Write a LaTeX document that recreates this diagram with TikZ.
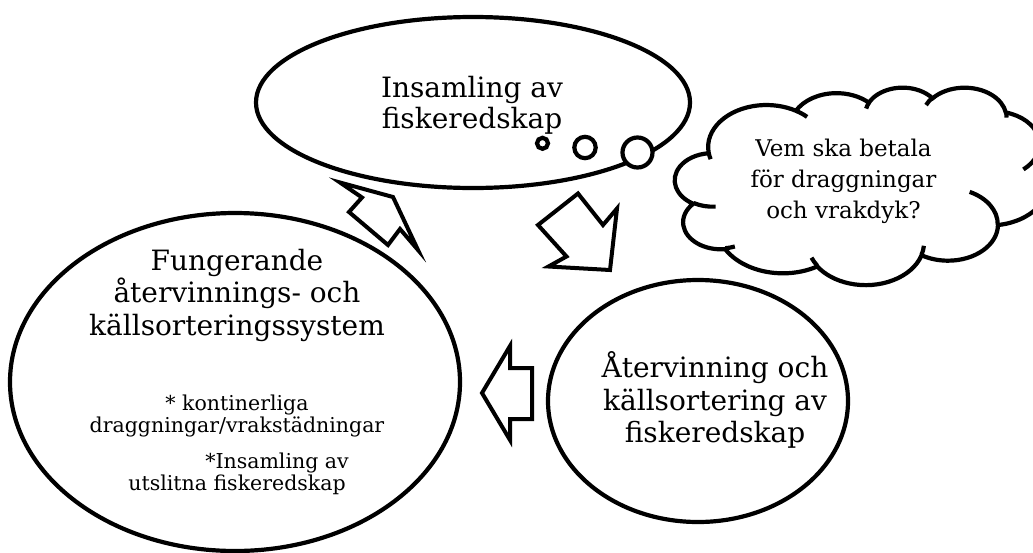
\documentclass[tikz,border=0pt]{standalone}
\usepackage{fontspec}
\setmainfont{DejaVu Serif}
\usetikzlibrary{shapes.geometric}

\tikzset{
  inkline/.style={draw=black, line width=4.2pt, fill=white},
  bubble/.style={inkline, ellipse, inner sep=0pt, outer sep=0pt},
  puff/.style={inkline, circle, inner sep=0pt, outer sep=0pt},
  blockarrow/.style={draw=black, line width=4pt, fill=white, line join=miter, miter limit=12},
  bigtext/.style={align=center, inner sep=0pt, font=\fontsize{28}{32.5}\selectfont},
  cloudtext/.style={align=center, inner sep=0pt, font=\fontsize{23}{31}\selectfont},
  notetext/.style={align=center, inner sep=0pt, font=\fontsize{20.5}{22}\selectfont},
  % elliptical arc given by radii, visual start angle and sweep (degrees)
  cloud arc/.style n args={4}{
    /utils/exec={%
      \pgfmathsetmacro\cloudsa{atan2((#1)*sin(#3),(#2)*cos(#3))}%
      \pgfmathsetmacro\cloudea{atan2((#1)*sin((#3)+(#4)),(#2)*cos((#3)+(#4)))}%
      \pgfmathsetmacro\cloudea{(\cloudea)+360*round(((\cloudsa)+(#4)-(\cloudea))/360)}%
    },
    insert path={arc[x radius=#1pt, y radius=#2pt, start angle=\cloudsa, end angle=\cloudea]}
  }
}

\begin{document}
\begin{tikzpicture}[x=1pt, y=1pt, yscale=-1]
  \useasboundingbox (0,0) rectangle (1033,552);
  \clip (0,0) rectangle (1033,552);

  % the three stages
  \node[bubble, minimum width=434pt, minimum height=171pt] (collect) at (473,102.5) {};
  \node[bubble, minimum width=450pt, minimum height=338pt] (system) at (235,382) {};
  \node[bubble, minimum width=300pt, minimum height=242pt] (recycle) at (698,401) {};

  % cloud with its question
  \begin{scope}[shift={(675,87)}, xscale=0.8634, yscale=0.457]
    \draw[inkline] (39.00,143.70)
      [cloud arc={67.53}{91.90}{-190.4875}{123.7805}]
      [cloud arc={53.33}{72.67}{-144.1024}{89.9452}]
      [cloud arc={43.65}{59.45}{-145.8079}{99.7230}]
      [cloud arc={48.57}{65.95}{-130.9861}{117.2417}]
      [cloud arc={53.33}{72.73}{-78.7089}{109.0269}]
      [cloud arc={67.75}{92.20}{-46.2673}{130.2690}]
      [cloud arc={57.85}{78.67}{0.6250}{114.0333}]
      [cloud arc={67.52}{92.15}{22.4516}{115.1726}]
      [cloud arc={77.20}{105.43}{66.2426}{75.7110}]
      [cloud arc={43.60}{59.18}{-274.9421}{146.7356}]
      [cloud arc={43.45}{59.45}{-246.8285}{152.5189}]
      -- cycle;
    \draw[inkline, fill=none]
      (46.93,261.77) [cloud arc={43.45}{59.45}{86.7420}{26.4295}]
      (69.28,348.99) [cloud arc={43.60}{59.18}{73.6105}{11.4475}]
      (164.78,390.90) [cloud arc={67.52}{92.15}{137.6242}{14.0811}]
      (288.27,347.51) [cloud arc={67.52}{92.15}{6.4533}{15.9984}]
      (341.29,229.54) [cloud arc={57.85}{78.67}{-70.2924}{70.9174}]
      (417.98,153.54) [cloud arc={53.33}{72.73}{30.3180}{27.7515}]
      (383.24,54.26) [cloud arc={48.57}{65.95}{-13.7443}{14.8589}]
      (290.78,39.52) [cloud arc={48.57}{65.95}{-149.1815}{18.1954}]
      (221.41,47.20) [cloud arc={43.65}{59.45}{-163.4943}{17.6864}]
      (140.00,51.92) [cloud arc={67.53}{91.90}{-66.7070}{12.3194}]
      (41.27,157.89) [cloud arc={67.53}{91.90}{157.6544}{11.8582}];
  \end{scope}

  % thought puffs between the cloud and the top stage
  \node[puff, minimum size=30pt] (puffbig) at (637.5,152.5) {};
  \node[puff, minimum size=21.4pt] (puffmid) at (585,147.5) {};
  \node[puff, minimum size=11pt] (puffsmall) at (542.5,143.3) {};

  % block arrows of the cycle
  \draw[blockarrow] (340,182.5) -- (393,197) -- (418,250) -- (400,229)
    -- (388,245) -- (349,212) -- (362,197.5) -- cycle;
  \draw[blockarrow] (538,225) -- (578,193.5) -- (603,225) -- (617,208.5)
    -- (610,270) -- (548.5,266.5) -- (566.5,256.5) -- cycle;
  \draw[blockarrow] (482,393) -- (510,346) -- (510,368) -- (532,368)
    -- (532,419) -- (510,419) -- (510,440) -- cycle;

  % texts
  \node[bigtext, font=\fontsize{28}{31}\selectfont] (collecttext) at (472,105.2)
    {Insamling av\\fiskeredskap};
  \node[bigtext] (systemtext) at (237,295.2)
    {Fungerande\\återvinnings- och\\källsorteringssystem};
  \node[notetext] (systemnotes) at (237,445)
    {* kontinerliga\\draggningar/vrakstädningar\\[14pt]\hspace*{80pt}*Insamling av\\utslitna fiskeredskap};
  \node[bigtext] (recycletext) at (715,400.2)
    {Återvinning och\\källsortering av\\fiskeredskap};
  \node[cloudtext] (questiontext) at (843.5,181.1)
    {Vem ska betala\\för draggningar\\och vrakdyk?};
\end{tikzpicture}
\end{document}
